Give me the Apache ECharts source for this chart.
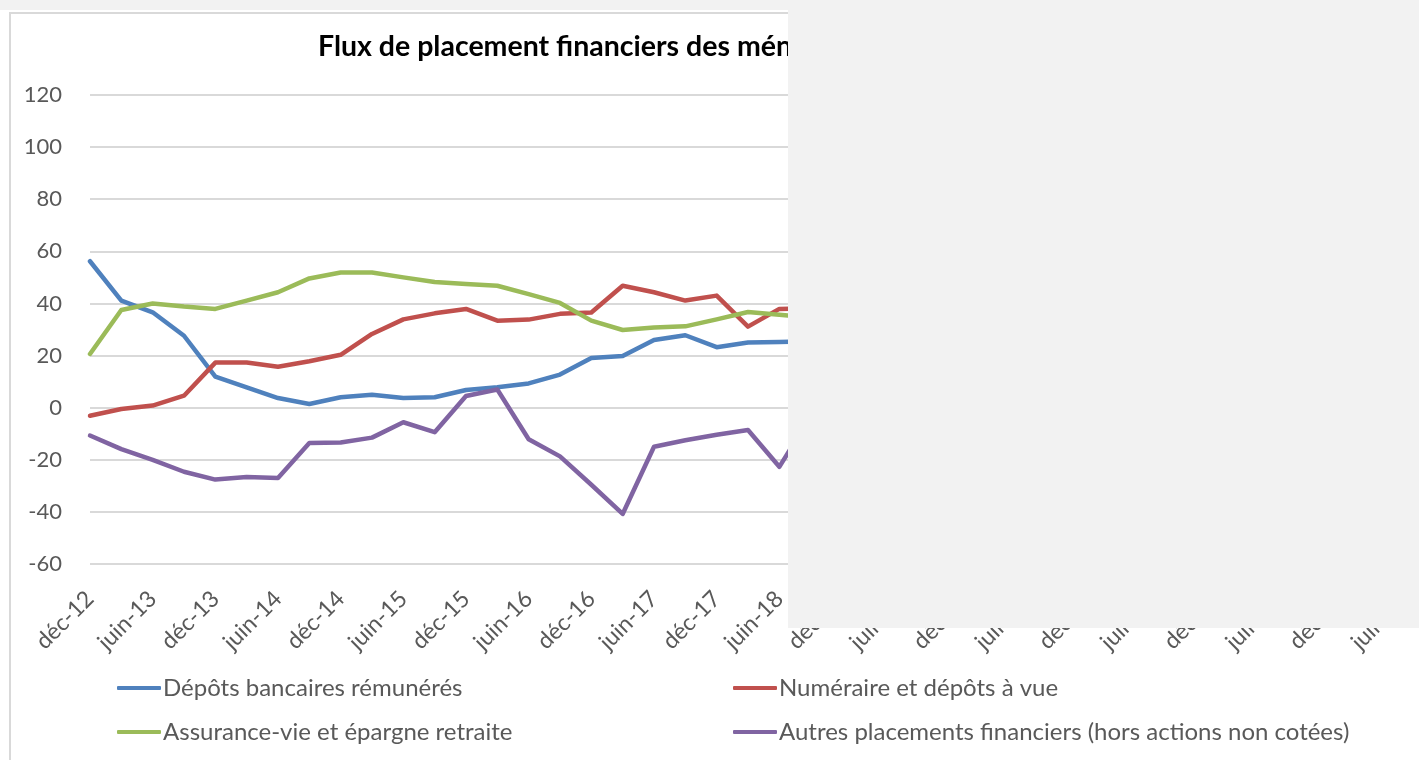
<!DOCTYPE html>
<html>
<head>
<meta charset="utf-8">
<script src="https://cdn.jsdelivr.net/npm/echarts@6/dist/echarts.min.js"></script>
<style>
html, body { margin: 0; padding: 0; background: #fff; }
#FluxChart { width: 1419px; height: 760px; }
</style>
</head>
<body>
<div id="FluxChart"></div>
<script>
// trimestres, de déc-12 à juin-23
var categories = ['déc-12','mars-13','juin-13','sept-13','déc-13','mars-14','juin-14','sept-14',
    'déc-14','mars-15','juin-15','sept-15','déc-15','mars-16','juin-16','sept-16',
    'déc-16','mars-17','juin-17','sept-17','déc-17','mars-18','juin-18','sept-18',
    'déc-18','mars-19','juin-19','sept-19','déc-19','mars-20','juin-20','sept-20',
    'déc-20','mars-21','juin-21','sept-21','déc-21','mars-22','juin-22','sept-22',
    'déc-22','mars-23','juin-23'];

var depotsBancaires = [56.2, 41.1, 36.6, 27.6, 11.9, 7.8, 3.7, 1.4, 4.0, 5.0, 3.7, 4.0,
    6.8, 7.8, 9.3, 12.7, 19.1, 19.8, 26.0, 27.8, 23.2, 25.0, 25.2, 25.5];
var numeraire = [-3.1, -0.5, 0.8, 4.6, 17.3, 17.3, 15.7, 17.8, 20.3, 28.3, 33.9, 36.2,
    37.9, 33.4, 33.8, 36.0, 36.5, 46.8, 44.3, 41.1, 43.0, 31.1, 37.9, 38.2];
var assuranceVie = [20.6, 37.5, 40.0, 38.8, 37.9, 41.1, 44.3, 49.6, 51.9, 51.9, 50.0, 48.2,
    47.5, 46.8, 43.6, 40.2, 33.4, 29.8, 30.8, 31.2, 33.9, 36.7, 35.7, 34.6];
var autresPlacements = [-10.7, -15.9, -20.0, -24.6, -27.6, -26.6, -27.0, -13.6, -13.4, -11.5, -5.6, -9.4,
    4.5, 7.0, -12.1, -18.7, -29.6, -40.8, -15.0, -12.5, -10.4, -8.6, -22.7, -3.3];

var yTicks = { min: -60, max: 120, interval: 20 };

var names = ['Dépôts bancaires rémunérés', 'Numéraire et dépôts à vue',
    'Assurance-vie et épargne retraite', 'Autres placements financiers (hors actions non cotées)'];
var colors = ['#4f81bd', '#c0504d', '#9bbb59', '#8064a2'];
var font = 'Lato, "Open Sans", sans-serif';

function lineSerie(name, data, color) {
    return {
        name: name,
        type: 'line',
        data: data,
        color: color,
        showSymbol: false,
        symbol: 'none',
        lineStyle: { width: 4.5, color: color, cap: 'round', join: 'round' },
        emphasis: { disabled: true }
    };
}

function legendCol(data, left) {
    return {
        data: data,
        orient: 'vertical',
        left: left,
        top: 675,
        padding: 0,
        itemWidth: 44,
        itemHeight: 4,
        itemGap: 18,
        icon: 'roundRect',
        textStyle: { fontFamily: font, fontSize: 24, color: '#595959', lineHeight: 26, padding: [0, 0, 0, -3] }
    };
}

var myChart = echarts.init(document.getElementById('FluxChart'));
var option = {
    animation: false,
    textStyle: { fontFamily: font },
    title: {
        text: 'Flux de placement financiers des ménages',
        left: 318,
        top: 32,
        padding: 0,
        textStyle: { fontFamily: font, fontWeight: 'bold', fontSize: 28.5, color: '#000' }
    },
    legend: [legendCol([names[0], names[2]], 117), legendCol([names[1], names[3]], 733)],
    grid: { left: 90, right: 13, top: 95, bottom: 196, containLabel: false },
    xAxis: {
        type: 'category',
        data: categories,
        boundaryGap: false,
        axisLine: { show: false, onZero: false },
        axisTick: { show: false },
        axisLabel: {
            interval: 1,
            rotate: 45,
            margin: 31,
            fontFamily: font,
            fontSize: 23,
            color: '#595959'
        },
        splitLine: { show: false }
    },
    yAxis: {
        type: 'value',
        min: yTicks.min,
        max: yTicks.max,
        interval: yTicks.interval,
        axisLine: { show: false },
        axisTick: { show: false },
        axisLabel: { margin: 28, fontFamily: font, fontSize: 22, color: '#595959' },
        splitLine: { lineStyle: { color: '#d9d9d9', width: 2 } }
    },
    graphic: [
        { type: 'rect', z: -10, silent: true, shape: { x: 10, y: 13, width: 1440, height: 800 },
          style: { fill: 'none', stroke: '#d9d9d9', lineWidth: 2 } },
        { type: 'rect', z: 100, silent: true, shape: { x: 0, y: 0, width: 1419, height: 10 },
          style: { fill: '#f2f2f2' } },
        { type: 'rect', z: 100, silent: true, shape: { x: 788, y: 0, width: 631, height: 628 },
          style: { fill: '#f2f2f2' } }
    ],
    series: [
        lineSerie(names[0], depotsBancaires, colors[0]),
        lineSerie(names[1], numeraire, colors[1]),
        lineSerie(names[2], assuranceVie, colors[2]),
        lineSerie(names[3], autresPlacements, colors[3])
    ]
};
if (option && typeof option === "object") {
    myChart.setOption(option, true);
    window.addEventListener('resize', function () { myChart.resize(); });
}
</script>
</body>
</html>
